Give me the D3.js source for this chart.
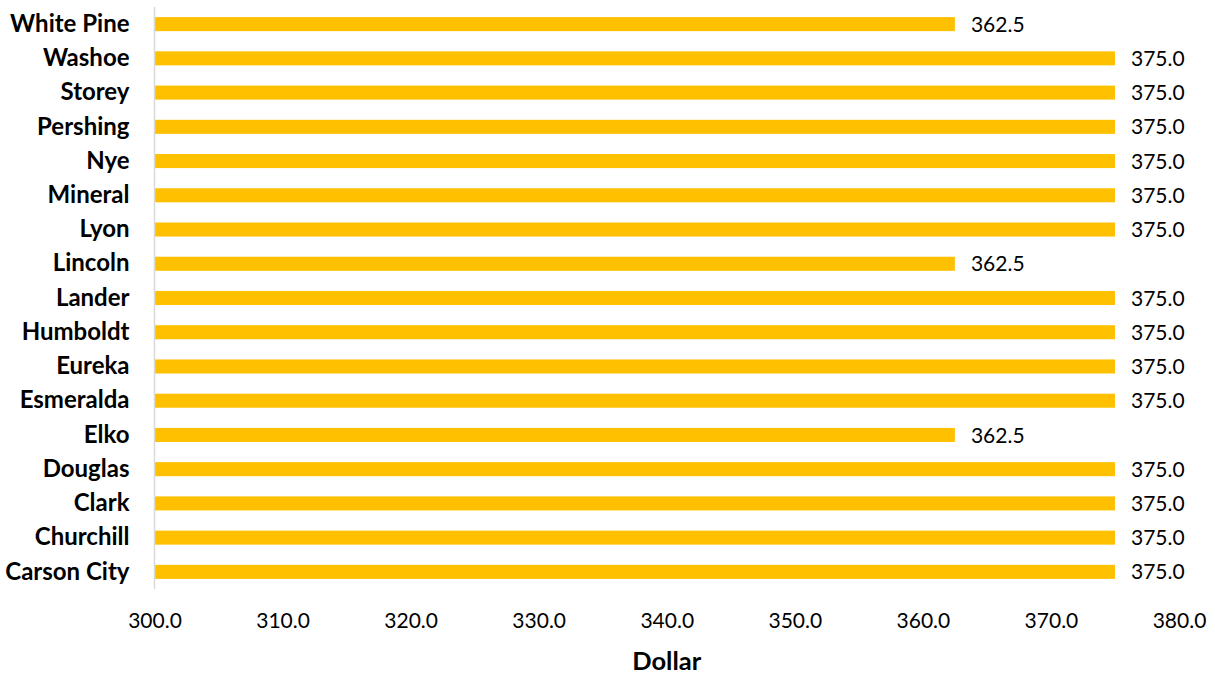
<!DOCTYPE html>
<html>
<head>
<meta charset="utf-8">
<script src="https://cdn.jsdelivr.net/npm/d3@7"></script>
<style>
  html, body { margin: 0; padding: 0; background: #fff; }
  svg { display: block; font-family: Lato, "Open Sans", sans-serif; }
</style>
</head>
<body>
<svg id="chart" width="1215" height="675"></svg>
<script>
const categories = ["White Pine","Washoe","Storey","Pershing","Nye","Mineral","Lyon","Lincoln","Lander","Humboldt","Eureka","Esmeralda","Elko","Douglas","Clark","Churchill","Carson City"];
const values = [362.5,375.0,375.0,375.0,375.0,375.0,375.0,362.5,375.0,375.0,375.0,375.0,362.5,375.0,375.0,375.0,375.0];
const xTicks = [300,310,320,330,340,350,360,370,380];
const xDomain = [300, 380];
const xTitle = "Dollar";

const svg = d3.select("#chart");
const mLeft = 154.5, mRight = 1179, mTop = 7, mBottom = 589;

const x = d3.scaleLinear().domain(xDomain).range([mLeft, mRight]);
const y = d3.scaleBand().domain(categories).range([mTop, mBottom]).paddingInner(0.59).paddingOuter(0.295);

// bars
svg.append("g").selectAll("rect").data(categories).join("rect")
  .attr("x", x(xDomain[0]))
  .attr("y", d => y(d))
  .attr("width", (d, i) => x(values[i]) - x(xDomain[0]))
  .attr("height", y.bandwidth())
  .attr("fill", "#FFC000");

// vertical axis line
svg.append("line")
  .attr("x1", mLeft).attr("x2", mLeft)
  .attr("y1", mTop).attr("y2", mBottom)
  .attr("stroke", "#d9d9d9").attr("stroke-width", 1.5);

// category labels
const yAxis = d3.axisLeft(y).tickSize(0).tickPadding(25);
const gy = svg.append("g").attr("transform", `translate(${mLeft},0)`).call(yAxis);
gy.select(".domain").remove();
gy.selectAll("text")
  .attr("font-family", "Lato, 'Open Sans', sans-serif")
  .attr("font-size", 24).attr("font-weight", "bold").attr("fill", "#000");

// x tick labels
const xAxis = d3.axisBottom(x).tickValues(xTicks).tickSize(0).tickPadding(0).tickFormat(d3.format(".1f"));
const gx = svg.append("g").attr("transform", `translate(0,${mBottom})`).call(xAxis);
gx.select(".domain").remove();
gx.selectAll("text")
  .attr("font-family", "Lato, 'Open Sans', sans-serif")
  .attr("font-size", 21).attr("fill", "#000")
  .attr("dy", null).attr("y", 38.5);

// value labels
svg.append("g").selectAll("text").data(categories).join("text")
  .attr("x", (d, i) => x(values[i]) + 16)
  .attr("y", d => y(d) + y.bandwidth() / 2)
  .attr("dy", "0.36em")
  .attr("font-size", 21).attr("fill", "#000")
  .text((d, i) => d3.format(".1f")(values[i]));

// x title
svg.append("text")
  .attr("x", (mLeft + mRight) / 2)
  .attr("y", 670)
  .attr("text-anchor", "middle")
  .attr("font-size", 25.5).attr("font-weight", "bold").attr("fill", "#000")
  .text(xTitle);
</script>
</body>
</html>
